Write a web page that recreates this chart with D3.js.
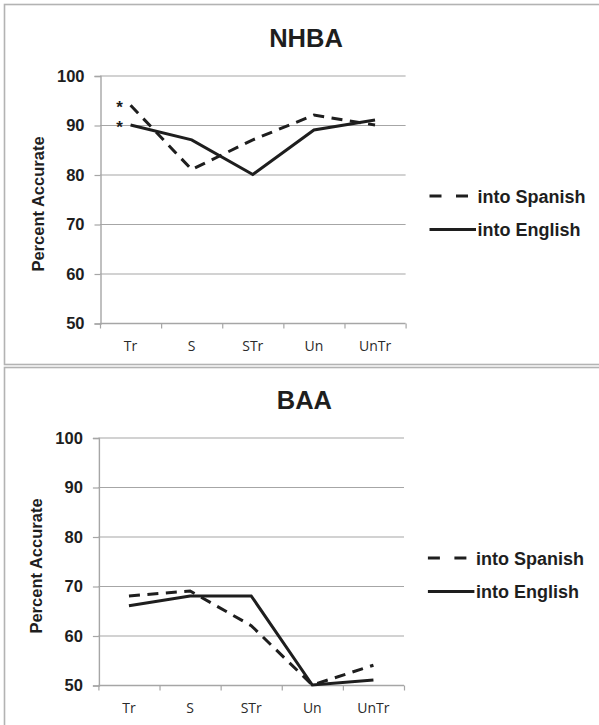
<!DOCTYPE html>
<html>
<head>
<meta charset="utf-8">
<script src="https://cdn.jsdelivr.net/npm/d3@7"></script>
<style>
  html, body { margin: 0; padding: 0; background: #fff; }
  svg { display: block; }
</style>
</head>
<body>
<script>
// Percent accurate by condition, two translation directions, two test batteries
const categories = ["Tr", "S", "STr", "Un", "UnTr"];
const seriesNames = ["into Spanish", "into English"];
const panelTitles = ["NHBA", "BAA"];
const nhbaSpanish = [94, 81, 87, 92, 90];
const nhbaEnglish = [90, 87, 80, 89, 91];
const baaSpanish = [68, 69, 62, 50, 54];
const baaEnglish = [66, 68, 68, 50, 51];
const yTicks = [50, 60, 70, 80, 90, 100];
const yAxisLabel = "Percent Accurate";
// significance markers on the first condition of the NHBA panel
const nhbaMarkers = [{ series: 0, text: "*" }, { series: 1, text: "*" }];

const W = 599, H = 725;
const svg = d3.select("body").append("svg")
  .attr("width", W).attr("height", H);

const panels = [
  { title: panelTitles[0], spanish: nhbaSpanish, english: nhbaEnglish, markers: nhbaMarkers,
    top: 4.5, frameH: 360, dx: 0, dy: 0 },
  { title: panelTitles[1], spanish: baaSpanish, english: baaEnglish, markers: [],
    top: 367.5, frameH: 400, dx: -1.6, dy: 362 }
];

const ink = "#1e1e1e";
const gridColor = "#a6a6a6";
const dashPattern = "11,7.5";

panels.forEach(p => {
  // chart frame
  svg.append("rect")
    .attr("x", 4.5).attr("y", p.top)
    .attr("width", 620).attr("height", p.frameH)
    .attr("fill", "none").attr("stroke", "#b3b3b3").attr("stroke-width", 1.6);

  const g = svg.append("g").attr("transform", `translate(${p.dx},${p.dy})`);

  const x = d3.scaleBand().domain(categories).range([100, 405.6]);
  const y = d3.scaleLinear().domain([50, 100]).range([323, 75.5]);
  const cx = c => x(c) + x.bandwidth() / 2;

  // title
  g.append("text")
    .attr("x", 306).attr("y", 46.5)
    .attr("text-anchor", "middle")
    .attr("font-family", "Liberation Sans, Arial, sans-serif")
    .attr("font-weight", "bold").attr("font-size", 25.5)
    .attr("fill", ink)
    .text(p.title);

  // horizontal gridlines
  g.append("g").selectAll("line")
    .data(yTicks.filter(t => t > 50))
    .join("line")
    .attr("x1", 100).attr("x2", 405.6)
    .attr("y1", d => y(d) + 0.5).attr("y2", d => y(d) + 0.5)
    .attr("stroke", gridColor).attr("stroke-width", 1.2);

  // y axis
  const yAxis = g.append("g")
    .attr("transform", "translate(100.5,0.5)")
    .call(d3.axisLeft(y).tickValues(yTicks).tickSize(6).tickPadding(10));
  yAxis.select(".domain").attr("stroke", gridColor).attr("stroke-width", 1.4);
  yAxis.selectAll(".tick line").attr("stroke", gridColor).attr("stroke-width", 1.2);
  yAxis.selectAll(".tick text")
    .attr("font-family", "Liberation Sans, Arial, sans-serif")
    .attr("font-weight", "bold").attr("font-size", 16.5)
    .attr("fill", ink);

  // x axis with ticks on category boundaries
  const boundaries = categories.map(c => x(c)).concat([x.range()[1]]);
  const xg = g.append("g").attr("transform", "translate(0,323.5)");
  xg.append("line")
    .attr("x1", 100).attr("x2", 405.6)
    .attr("stroke", gridColor).attr("stroke-width", 1.4);
  xg.selectAll("line.tk")
    .data(boundaries)
    .join("line").attr("class", "tk")
    .attr("x1", d => d + 0.5).attr("x2", d => d + 0.5)
    .attr("y1", 0).attr("y2", 5)
    .attr("stroke", gridColor).attr("stroke-width", 1.2);
  xg.selectAll("text")
    .data(categories)
    .join("text")
    .attr("x", d => cx(d)).attr("y", 27)
    .attr("text-anchor", "middle")
    .attr("font-family", "Open Sans, sans-serif")
    .attr("font-size", 14)
    .attr("fill", "#2a2a2a")
    .text(d => d);

  // y axis title
  g.append("text")
    .attr("transform", "translate(44,204) rotate(-90)")
    .attr("text-anchor", "middle")
    .attr("font-family", "Liberation Sans, Arial, sans-serif")
    .attr("font-weight", "bold").attr("font-size", 16.5)
    .attr("fill", ink)
    .text(yAxisLabel);

  // series lines
  const line = d3.line()
    .x((d, i) => cx(categories[i]))
    .y(d => y(d));
  const series = [
    { values: p.spanish, dash: dashPattern },
    { values: p.english, dash: null }
  ];
  series.forEach(s => {
    g.append("path")
      .datum(s.values)
      .attr("d", line)
      .attr("fill", "none")
      .attr("stroke", ink)
      .attr("stroke-width", 3)
      .attr("stroke-linejoin", "miter")
      .attr("stroke-dasharray", s.dash);
  });

  // markers next to the first condition
  p.markers.forEach(m => {
    const v = series[m.series].values[0];
    g.append("text")
      .attr("x", cx(categories[0]) - 11).attr("y", y(v) + 8)
      .attr("text-anchor", "middle")
      .attr("font-family", "Liberation Sans, Arial, sans-serif")
      .attr("font-weight", "bold").attr("font-size", 17)
      .attr("fill", ink)
      .text(m.text);
  });

  // legend
  const legendRows = [
    { name: seriesNames[0], y: 196, dash: "12,14.5", x2: 468.5 },
    { name: seriesNames[1], y: 229.5, dash: null, x2: 476 }
  ];
  legendRows.forEach(r => {
    g.append("line")
      .attr("x1", 429.5).attr("x2", r.x2)
      .attr("y1", r.y).attr("y2", r.y)
      .attr("stroke", ink).attr("stroke-width", 3)
      .attr("stroke-dasharray", r.dash);
    g.append("text")
      .attr("x", 477.5).attr("y", r.y + 6.5)
      .attr("font-family", "Liberation Sans, Arial, sans-serif")
      .attr("font-weight", "bold").attr("font-size", 18)
      .attr("fill", ink)
      .text(r.name);
  });
});
</script>
</body>
</html>
